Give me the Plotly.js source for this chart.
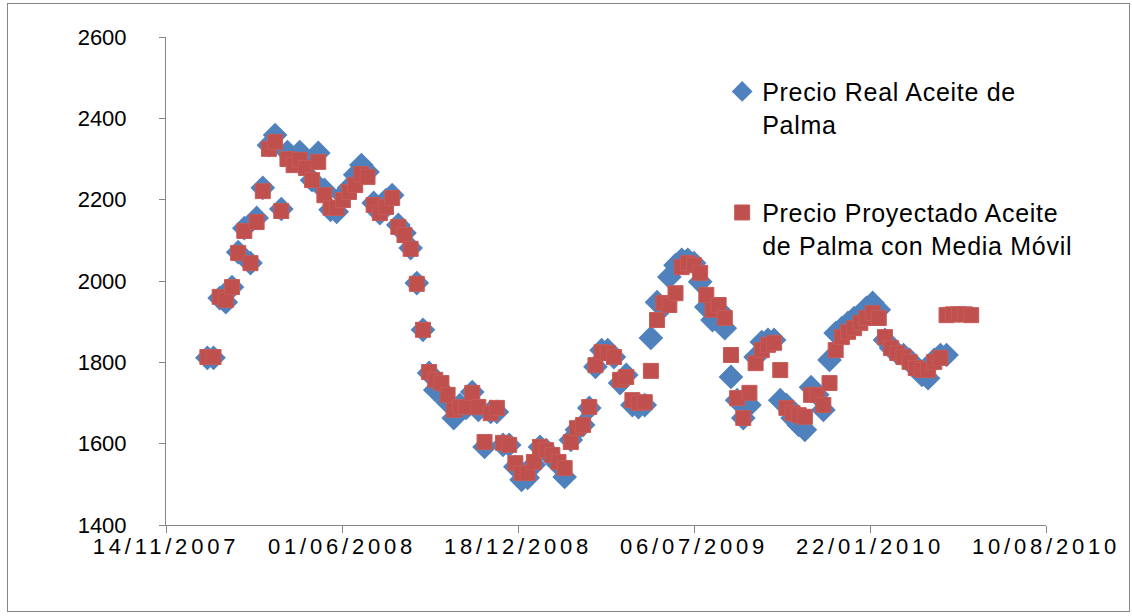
<!DOCTYPE html>
<html>
<head>
<meta charset="utf-8">
<script src="https://cdn.plot.ly/plotly-3.0.1.min.js"></script>
<style>
  html, body { margin: 0; padding: 0; background: #ffffff; }
  #lienzo { position: relative; width: 1132px; height: 616px; }
  #grafico { width: 1132px; height: 616px; }
  #marco {
    position: absolute; left: 7px; top: 3px; width: 1121px; height: 607px;
    border: 1px solid #868686; pointer-events: none;
  }
  /* Etiquetas de fechas y leyenda algo más espaciadas */
  #grafico .xtick text { letter-spacing: 3.8px; }
  #grafico .legendtext { letter-spacing: 0.7px; }
  #grafico .legend .scrollbox { clip-path: none !important; }
</style>
</head>
<body>
<div id="lienzo">
  <div id="grafico"></div>
  <div id="marco"></div>
</div>
<script>
// Semanas de la serie (lunes)
const fechas = [
  '2007-12-31','2008-01-07','2008-01-14','2008-01-21','2008-01-28','2008-02-04','2008-02-11','2008-02-18','2008-02-25','2008-03-03',
  '2008-03-10','2008-03-17','2008-03-24','2008-03-31','2008-04-07','2008-04-14','2008-04-21','2008-04-28','2008-05-05','2008-05-12',
  '2008-05-19','2008-05-26','2008-06-02','2008-06-09','2008-06-16','2008-06-23','2008-06-30','2008-07-07','2008-07-14','2008-07-21',
  '2008-07-28','2008-08-04','2008-08-11','2008-08-18','2008-08-25','2008-09-01','2008-09-08','2008-09-15','2008-09-22','2008-09-29',
  '2008-10-06','2008-10-13','2008-10-20','2008-10-27','2008-11-03','2008-11-10','2008-11-17','2008-11-24','2008-12-01','2008-12-08',
  '2008-12-15','2008-12-22','2008-12-29','2009-01-05','2009-01-12','2009-01-19','2009-01-26','2009-02-02','2009-02-09','2009-02-16',
  '2009-02-23','2009-03-02','2009-03-09','2009-03-16','2009-03-23','2009-03-30','2009-04-06','2009-04-13','2009-04-20','2009-04-27',
  '2009-05-04','2009-05-11','2009-05-18','2009-05-25','2009-06-01','2009-06-08','2009-06-15','2009-06-22','2009-06-29','2009-07-06',
  '2009-07-13','2009-07-20','2009-07-27','2009-08-03','2009-08-10','2009-08-17','2009-08-24','2009-08-31','2009-09-07','2009-09-14',
  '2009-09-21','2009-09-28','2009-10-05','2009-10-12','2009-10-19','2009-10-26','2009-11-02','2009-11-09','2009-11-16','2009-11-23',
  '2009-11-30','2009-12-07','2009-12-14','2009-12-21','2009-12-28','2010-01-04','2010-01-11','2010-01-18','2010-01-25','2010-02-01',
  '2010-02-08','2010-02-15','2010-02-22','2010-03-01','2010-03-08','2010-03-15','2010-03-22','2010-03-29','2010-04-05','2010-04-12',
  '2010-04-19','2010-04-26','2010-05-03','2010-05-10','2010-05-17'
];

// Precio real del aceite de palma
const precioReal = [
  1811, 1811, 1958, 1948, 1985, 2071, 2130, 2044, 2155, 2229,
  2334, 2359, 2177, 2317, 2298, 2317, 2285, 2248, 2315, 2224,
  2175, 2170, 2211, 2229, 2261, 2285, 2268, 2192, 2167, 2199,
  2211, 2138, 2118, 2081, 1995, 1880, 1774, 1732, 1732, 1702,
  1663, 1695, 1688, 1727, 1683, 1592, 1678, 1678, 1597, 1597,
  1543, 1511, 1516, 1548, 1592, 1584, 1565, 1548, 1518, 1609,
  1634, 1646, 1688, 1789, 1830, 1830, 1813, 1749, 1769, 1695,
  1690, 1695, 1860, 1948, 1936, 2010, 2039, 2052, 2052, 2044,
  1998, 1936, 1904, 1929, 1884, 1764, 1707, 1663, 1695, 1813,
  1850, 1855, 1855, 1707, 1695, 1663, 1646, 1634, 1739, 1720,
  1683, 1806, 1872, 1884, 1897, 1909, 1916, 1934, 1946, 1929,
  1855, 1835, 1823, 1818, 1806, 1786, 1769, 1761, 1806, 1818,
  1818
];

// Precio proyectado con media móvil
const precioProyectado = [
  1813, 1813, 1961, 1953, 1985, 2069, 2123, 2044, 2145, 2221,
  2325, 2342, 2172, 2300, 2285, 2298, 2278, 2248, 2293, 2211,
  2180, 2180, 2199, 2219, 2236, 2263, 2256, 2187, 2167, 2182,
  2204, 2133, 2113, 2079, 1993, 1880, 1776, 1757, 1749, 1720,
  1683, 1690, 1690, 1725, 1690, 1604, 1675, 1688, 1602, 1597,
  1552, 1528, 1528, 1555, 1592, 1584, 1572, 1555, 1540, 1604,
  1638, 1646, 1690, 1793, 1825, 1823, 1813, 1757, 1764, 1707,
  1700, 1702, 1779, 1904, 1946, 1941, 1970, 2034, 2044, 2039,
  2020, 1966, 1929, 1941, 1909, 1818, 1712, 1663, 1725, 1798,
  1830, 1843, 1848, 1781, 1688, 1675, 1670, 1666, 1720, 1720,
  1695, 1749, 1830, 1862, 1875, 1884, 1897, 1909, 1921, 1909,
  1862, 1835, 1823, 1813, 1801, 1786, 1781, 1781, 1801, 1811,
  1916, 1918, 1918, 1918, 1916
];

const nombresSeries = [
  'Precio Real Aceite de<br>Palma',
  'Precio Proyectado Aceite<br>de Palma con Media Móvil'
];

// Marcas del eje X (cada 200 días) y sus etiquetas
const ticksX = ['2007-11-14', '2008-06-01', '2008-12-18', '2009-07-06', '2010-01-22', '2010-08-10'];
const etiquetasX = ['14/11/2007', '01/06/2008', '18/12/2008', '06/07/2009', '22/01/2010', '10/08/2010'];
const ticksY = [1400, 1600, 1800, 2000, 2200, 2400, 2600];

const fuente = 'Liberation Sans, Arial, sans-serif';
const gris = '#868686';

const trazas = [
  {
    type: 'scatter', mode: 'markers', name: nombresSeries[0], legendgroup: 'real',
    x: fechas.slice(0, precioReal.length), y: precioReal,
    marker: { symbol: 'diamond', size: 19, color: '#4F81BD', line: { width: 0 } },
    hoverinfo: 'x+y'
  },
  {
    type: 'scatter', mode: 'markers', name: nombresSeries[1], legendgroup: 'proyectado',
    x: fechas.slice(0, precioProyectado.length), y: precioProyectado,
    marker: { symbol: 'square', size: 15, color: '#C0504D', line: { width: 1, color: '#C65B58' } },
    hoverinfo: 'x+y'
  }
];

const disposicion = {
  width: 1132, height: 616,
  margin: { l: 166, r: 86, t: 37, b: 91, pad: 0 },
  paper_bgcolor: '#ffffff', plot_bgcolor: '#ffffff',
  font: { family: fuente, size: 22, color: '#000000' },
  showlegend: true,
  legend: {
    x: 0.632, xanchor: 'left', y: 0.935, yanchor: 'top',
    font: { family: fuente, size: 25, color: '#000000' },
    valign: 'top', tracegroupgap: 53, bgcolor: 'rgba(0,0,0,0)', borderwidth: 0
  },
  xaxis: {
    type: 'date',
    range: [ticksX[0], ticksX[ticksX.length - 1]],
    tickmode: 'array', tickvals: ticksX, ticktext: etiquetasX,
    showgrid: false, zeroline: false,
    showline: true, linecolor: gris, linewidth: 1,
    ticks: 'outside', ticklen: 7, tickcolor: gris, tickwidth: 1,
    ticklabelstandoff: -5,
    tickfont: { family: fuente, size: 22, color: '#000000' },
    fixedrange: true
  },
  yaxis: {
    range: [1400, 2600],
    tickmode: 'array', tickvals: ticksY,
    showgrid: false, zeroline: false,
    showline: true, linecolor: gris, linewidth: 1,
    ticks: 'outside', ticklen: 6, tickcolor: gris, tickwidth: 1,
    ticklabelstandoff: 28,
    tickfont: { family: fuente, size: 22, color: '#000000' },
    fixedrange: true
  }
};

Plotly.newPlot('grafico', trazas, disposicion, { displayModeBar: false, staticPlot: true });
</script>
</body>
</html>
